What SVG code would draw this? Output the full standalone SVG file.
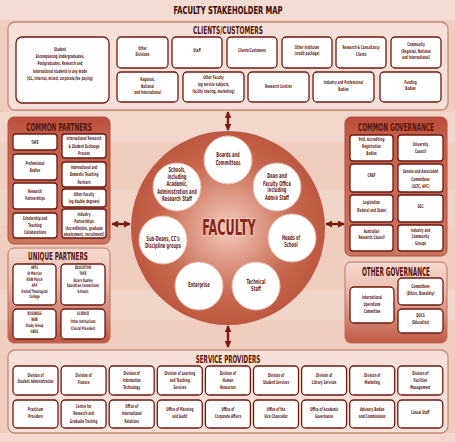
<svg xmlns="http://www.w3.org/2000/svg" width="455" height="442" viewBox="0 0 455 442">
<style>
.bx{fill:#fff;stroke:#6e1a12;stroke-width:1.3}
.bt{font-family:"DejaVu Sans Condensed","DejaVu Sans",sans-serif;font-weight:bold;font-size:5.2px;fill:#5c1510;text-anchor:middle}
.us{font-size:4.8px}
.ct{font-family:"DejaVu Sans Condensed","DejaVu Sans",sans-serif;font-weight:bold;font-size:7px;fill:#6a1a12;text-anchor:middle}
.pt{font-family:"DejaVu Sans Condensed","DejaVu Sans",sans-serif;font-weight:bold;font-size:11px;fill:#5a140e;text-anchor:middle}
.lp{fill:#f6e0d7;stroke:#c9897a;stroke-width:1.3}
.rp{fill:url(#redG);stroke:#b3503b;stroke-width:1}
.fp{fill:url(#fadeG);stroke:#c0705e;stroke-width:1}
.sc{fill:#fff;stroke:#e9b9aa;stroke-width:1}
.ar{stroke:#7a1c12;stroke-width:2.4;fill:none;marker-start:url(#ah);marker-end:url(#ah)}
</style>
<defs>
<linearGradient id="redG" x1="0" y1="0" x2="0" y2="1">
<stop offset="0" stop-color="#b94d38"/><stop offset="0.15" stop-color="#c2604b"/><stop offset="1" stop-color="#cb7561"/>
</linearGradient>
<linearGradient id="fadeG" x1="0" y1="0" x2="0" y2="1">
<stop offset="0" stop-color="#f4dad0"/><stop offset="0.3" stop-color="#eec2b4"/><stop offset="1" stop-color="#be5843"/>
</linearGradient>
<radialGradient id="facG" cx="0.5" cy="0.5" r="0.5">
<stop offset="0" stop-color="#f3cbbd"/><stop offset="0.35" stop-color="#de9985"/><stop offset="0.7" stop-color="#c7684f"/><stop offset="1" stop-color="#bd5841"/>
</radialGradient>
<marker id="ah" viewBox="0 0 8 8" refX="7" refY="4" markerWidth="7" markerHeight="7" markerUnits="userSpaceOnUse" orient="auto-start-reverse">
<path d="M0,0 L8,4 L0,8 z" fill="#7a1c12"/>
</marker>
</defs>
<rect x="0" y="0" width="455" height="442" fill="#efcdbf"/>
<rect x="0" y="0" width="455" height="20" fill="#f7e2da" opacity="0.7"/>
<rect x="0" y="112" width="455" height="30" fill="#f7e2da" opacity="0.5"/>
<rect x="0" y="190" width="455" height="35" fill="#f7e2da" opacity="0.4"/>
<rect x="0" y="290" width="455" height="30" fill="#f7e2da" opacity="0.4"/>
<rect x="0" y="433" width="455" height="9" fill="#f7e2da" opacity="0.5"/>
<text class="pt" transform="matrix(0.72 0 0 1 228 0)" x="0" y="14" style="fill:#3a0a08;font-size:10.5px">FACULTY STAKEHOLDER MAP</text>

<g id="clients">
<rect class="lp" x="8" y="22" width="440" height="88" rx="7"/>
<text class="pt" transform="matrix(0.59 0 0 1 228 0)" x="0" y="34">CLIENTS/CUSTOMERS</text>
<g id="c-student"><rect class="bx" x="16" y="37" width="93" height="66" rx="6"/>
<text class="bt" transform="matrix(0.58 0 0 1 60 0)"><tspan x="0" y="51.3">Student</tspan><tspan x="0" y="58">Encompassing Undergraduates,</tspan><tspan x="0" y="65.3">Postgraduates, Research and</tspan><tspan x="0" y="72.7">International students in any mode</tspan><tspan x="0" y="80.3">(OL, internal, mixed, corporate,fee paying)</tspan></text></g>
<g id="c-otherdiv"><rect class="bx" x="117" y="37" width="51" height="31" rx="4"/>
<text class="bt" transform="matrix(0.58 0 0 1 142.5 0)"><tspan x="0" y="49.6">Other</tspan><tspan x="0" y="56">Divisions</tspan></text></g>
<g id="c-staff"><rect class="bx" x="172" y="37" width="50" height="31" rx="4"/>
<text class="bt" transform="matrix(0.58 0 0 1 197 0)"><tspan x="0" y="52">Staff</tspan></text></g>
<g id="c-clients"><rect class="bx" x="227" y="37" width="50" height="31" rx="4"/>
<text class="bt" transform="matrix(0.58 0 0 1 252 0)"><tspan x="0" y="52">Clients/Customers</tspan></text></g>
<g id="c-otherinst"><rect class="bx" x="282" y="37" width="50" height="31" rx="4"/>
<text class="bt" transform="matrix(0.58 0 0 1 307 0)"><tspan x="0" y="48.6">Other Institutes</tspan><tspan x="0" y="55.2">(credit package)</tspan></text></g>
<g id="c-research"><rect class="bx" x="336" y="37" width="50" height="31" rx="4"/>
<text class="bt" transform="matrix(0.58 0 0 1 361 0)"><tspan x="0" y="49.3">Research &amp; Consultancy</tspan><tspan x="0" y="56">Clients</tspan></text></g>
<g id="c-community"><rect class="bx" x="391" y="37" width="50" height="31" rx="4"/>
<text class="bt" transform="matrix(0.58 0 0 1 416 0)"><tspan x="0" y="46">Community</tspan><tspan x="0" y="52.6">(Regional, National</tspan><tspan x="0" y="59.2">and International)</tspan></text></g>
<g id="c-regional"><rect class="bx" x="117" y="72" width="61" height="30" rx="4"/>
<text class="bt" transform="matrix(0.58 0 0 1 147.5 0)"><tspan x="0" y="81">Regional,</tspan><tspan x="0" y="87.7">National</tspan><tspan x="0" y="94.5">and International</tspan></text></g>
<g id="c-otherfac"><rect class="bx" x="183" y="72" width="61" height="30" rx="4"/>
<text class="bt" transform="matrix(0.58 0 0 1 213.5 0)"><tspan x="0" y="79.3">Other Faculty</tspan><tspan x="0" y="86">(eg service subjects,</tspan><tspan x="0" y="92.7">facility sharing, marketing)</tspan></text></g>
<g id="c-centres"><rect class="bx" x="248" y="72" width="61" height="30" rx="4"/>
<text class="bt" transform="matrix(0.58 0 0 1 278.5 0)"><tspan x="0" y="88">Research Centres</tspan></text></g>
<g id="c-industry"><rect class="bx" x="313" y="72" width="61" height="30" rx="4"/>
<text class="bt" transform="matrix(0.58 0 0 1 343.5 0)"><tspan x="0" y="84.3">Industry and Professional</tspan><tspan x="0" y="91">Bodies</tspan></text></g>
<g id="c-funding"><rect class="bx" x="380" y="72" width="61" height="30" rx="4"/>
<text class="bt" transform="matrix(0.58 0 0 1 410.5 0)"><tspan x="0" y="83.7">Funding</tspan><tspan x="0" y="90.5">Bodies</tspan></text></g>
</g>

<g id="common-partners">
<rect class="rp" x="8" y="117" width="102" height="127" rx="6"/>
<text class="pt" transform="matrix(0.58 0 0 1 59 0)" x="0" y="131">COMMON PARTNERS</text>
<g id="cp-tafe"><rect class="bx" x="13" y="134" width="44" height="16" rx="3"/>
<text class="bt" transform="matrix(0.58 0 0 1 35 0)"><tspan x="0" y="143.8">TAFE</tspan></text></g>
<g id="cp-prof"><rect class="bx" x="13" y="154" width="44" height="26" rx="3"/>
<text class="bt" transform="matrix(0.58 0 0 1 35 0)"><tspan x="0" y="164.6">Professional</tspan><tspan x="0" y="172">Bodies</tspan></text></g>
<g id="cp-research"><rect class="bx" x="13" y="183" width="44" height="26" rx="3"/>
<text class="bt" transform="matrix(0.58 0 0 1 35 0)"><tspan x="0" y="193">Research</tspan><tspan x="0" y="200.3">Partnerships</tspan></text></g>
<g id="cp-scholar"><rect class="bx" x="13" y="213" width="44" height="25" rx="3"/>
<text class="bt" transform="matrix(0.58 0 0 1 35 0)"><tspan x="0" y="220.3">Scholarship and</tspan><tspan x="0" y="227">Teaching</tspan><tspan x="0" y="234.2">Collaborations</tspan></text></g>
<g id="cp-intres"><rect class="bx" x="62" y="134" width="44" height="24" rx="3"/>
<text class="bt" transform="matrix(0.58 0 0 1 84 0)"><tspan x="0" y="140.3">International Research</tspan><tspan x="0" y="147.6">&amp; Student Exchange</tspan><tspan x="0" y="154.6">Process</tspan></text></g>
<g id="cp-intteach"><rect class="bx" x="62" y="162" width="44" height="25" rx="3"/>
<text class="bt" transform="matrix(0.58 0 0 1 84 0)"><tspan x="0" y="168.6">International and</tspan><tspan x="0" y="176">Domestic Teaching</tspan><tspan x="0" y="183.6">Partners</tspan></text></g>
<g id="cp-otherfac"><rect class="bx" x="62" y="189" width="44" height="18" rx="3"/>
<text class="bt" transform="matrix(0.58 0 0 1 84 0)"><tspan x="0" y="196">Other Faculty</tspan><tspan x="0" y="203">(eg double degrees)</tspan></text></g>
<g id="cp-industry"><rect class="bx" x="62" y="209" width="44" height="29" rx="3"/>
<text class="bt" transform="matrix(0.58 0 0 1 84 0)"><tspan x="0" y="216">Industry</tspan><tspan x="0" y="223">Partnerships</tspan><tspan x="0" y="229.6">(Accreditation, graduate</tspan><tspan x="0" y="236.2">employment, recruitment)</tspan></text></g>
</g>

<g id="unique-partners">
<rect class="fp" x="8" y="248" width="102" height="95" rx="6"/>
<text class="pt" transform="matrix(0.575 0 0 1 58 0)" x="0" y="260.5">UNIQUE PARTNERS</text>
<g id="up-arts"><rect class="bx" x="13" y="264" width="43" height="41" rx="4"/>
<text class="bt us" transform="matrix(0.58 0 0 1 34.5 0)"><tspan x="0" y="269.5">ARTS</tspan><tspan x="0" y="275">St Martins</tspan><tspan x="0" y="281">NSW Police</tspan><tspan x="0" y="287">AFP</tspan><tspan x="0" y="293">United Theological</tspan><tspan x="0" y="298.5">College</tspan></text></g>
<g id="up-edu"><rect class="bx" x="61" y="264" width="44" height="41" rx="4"/>
<text class="bt us" transform="matrix(0.58 0 0 1 83 0)"><tspan x="0" y="269.5">EDUCATION</tspan><tspan x="0" y="275.3">TAFE</tspan><tspan x="0" y="282">Alcorn Dudley</tspan><tspan x="0" y="287.5">Education Connections</tspan><tspan x="0" y="293">Schools</tspan></text></g>
<g id="up-bus"><rect class="bx" x="13" y="309" width="43" height="30" rx="4"/>
<text class="bt us" transform="matrix(0.58 0 0 1 34.5 0)"><tspan x="0" y="315">BUSINESS</tspan><tspan x="0" y="321">WAB</tspan><tspan x="0" y="327.5">Study Group</tspan><tspan x="0" y="333.5">GBSU</tspan></text></g>
<g id="up-sci"><rect class="bx" x="61" y="309" width="44" height="30" rx="4"/>
<text class="bt us" transform="matrix(0.58 0 0 1 83 0)"><tspan x="0" y="315">SCIENCE</tspan><tspan x="0" y="323">Other Institutions</tspan><tspan x="0" y="330">Clinical Providers</tspan></text></g>
</g>

<g id="common-governance">
<rect class="rp" x="345" y="117" width="102" height="139" rx="6"/>
<text class="pt" transform="matrix(0.576 0 0 1 396 0)" x="0" y="131">COMMON GOVERNANCE</text>
<g id="cg-prof"><rect class="bx" x="350" y="135" width="43" height="26" rx="3"/>
<text class="bt" transform="matrix(0.58 0 0 1 371.5 0)"><tspan x="0" y="141">Prof. Accrediting</tspan><tspan x="0" y="148.5">Registration</tspan><tspan x="0" y="155">Bodies</tspan></text></g>
<g id="cg-council"><rect class="bx" x="398" y="135" width="45" height="26" rx="3"/>
<text class="bt" transform="matrix(0.58 0 0 1 420.5 0)"><tspan x="0" y="146">University</tspan><tspan x="0" y="153.5">Council</tspan></text></g>
<g id="cg-crbf"><rect class="bx" x="350" y="164" width="43" height="28" rx="3"/>
<text class="bt" transform="matrix(0.58 0 0 1 371.5 0)"><tspan x="0" y="177">CRBF</tspan></text></g>
<g id="cg-senate"><rect class="bx" x="398" y="164" width="45" height="28" rx="3"/>
<text class="bt" transform="matrix(0.58 0 0 1 420.5 0)"><tspan x="0" y="173.5">Senate and Associated</tspan><tspan x="0" y="181">Committees</tspan><tspan x="0" y="188">(ULTC, APC)</tspan></text></g>
<g id="cg-legis"><rect class="bx" x="350" y="195" width="43" height="27" rx="3"/>
<text class="bt" transform="matrix(0.58 0 0 1 371.5 0)"><tspan x="0" y="204">Legislation</tspan><tspan x="0" y="212">(Federal and State)</tspan></text></g>
<g id="cg-sec"><rect class="bx" x="398" y="195" width="45" height="27" rx="3"/>
<text class="bt" transform="matrix(0.58 0 0 1 420.5 0)"><tspan x="0" y="208.5">SEC</tspan></text></g>
<g id="cg-arc"><rect class="bx" x="350" y="225" width="43" height="26" rx="3"/>
<text class="bt" transform="matrix(0.58 0 0 1 371.5 0)"><tspan x="0" y="233">Australian</tspan><tspan x="0" y="239.5">Research Council</tspan></text></g>
<g id="cg-industry"><rect class="bx" x="398" y="225" width="45" height="26" rx="3"/>
<text class="bt" transform="matrix(0.58 0 0 1 420.5 0)"><tspan x="0" y="232">Industry and</tspan><tspan x="0" y="238.5">Community</tspan><tspan x="0" y="245">Groups</tspan></text></g>
</g>

<g id="other-governance">
<rect class="fp" x="345" y="262" width="102" height="81" rx="6"/>
<text class="pt" transform="matrix(0.53 0 0 1 396 0)" x="0" y="276" style="font-size:12px">OTHER GOVERNANCE</text>
<g id="og-intops"><rect class="bx" x="350" y="287" width="44" height="36" rx="4"/>
<text class="bt" transform="matrix(0.58 0 0 1 372 0)"><tspan x="0" y="299">International</tspan><tspan x="0" y="306">Operations</tspan><tspan x="0" y="313.5">Committee</tspan></text></g>
<g id="og-comm"><rect class="bx" x="398" y="278" width="45" height="27" rx="4"/>
<text class="bt" transform="matrix(0.58 0 0 1 420.5 0)"><tspan x="0" y="288">Committees</tspan><tspan x="0" y="295">(Ethics, Biosafety)</tspan></text></g>
<g id="og-docs"><rect class="bx" x="398" y="309" width="45" height="24" rx="4"/>
<text class="bt" transform="matrix(0.58 0 0 1 420.5 0)"><tspan x="0" y="317">DOCS</tspan><tspan x="0" y="324">(Education)</tspan></text></g>
</g>

<g id="service-providers">
<rect class="lp" x="8" y="350" width="440" height="83" rx="7"/>
<text class="pt" transform="matrix(0.565 0 0 1 228 0)" x="0" y="363">SERVICE PROVIDERS</text>
<g id="sp-stuadmin"><rect class="bx" x="13" y="366" width="45" height="29" rx="4"/>
<text class="bt" transform="matrix(0.58 0 0 1 35.5 0)"><tspan x="0" y="377">Division of</tspan><tspan x="0" y="383.5">Student Administration</tspan></text></g>
<g id="sp-finance"><rect class="bx" x="61.1" y="366" width="45" height="29" rx="4"/>
<text class="bt" transform="matrix(0.58 0 0 1 83.6 0)"><tspan x="0" y="377">Division of</tspan><tspan x="0" y="383.6">Finance</tspan></text></g>
<g id="sp-it"><rect class="bx" x="109.2" y="366" width="45" height="29" rx="4"/>
<text class="bt" transform="matrix(0.58 0 0 1 131.7 0)"><tspan x="0" y="375.2">Division of</tspan><tspan x="0" y="382">Information</tspan><tspan x="0" y="388.6">Technology</tspan></text></g>
<g id="sp-lts"><rect class="bx" x="157.3" y="366" width="45" height="29" rx="4"/>
<text class="bt" transform="matrix(0.58 0 0 1 179.8 0)"><tspan x="0" y="375.2">Division of Learning</tspan><tspan x="0" y="382">and Teaching</tspan><tspan x="0" y="388.6">Services</tspan></text></g>
<g id="sp-hr"><rect class="bx" x="205.4" y="366" width="45" height="29" rx="4"/>
<text class="bt" transform="matrix(0.58 0 0 1 227.9 0)"><tspan x="0" y="375.2">Division of</tspan><tspan x="0" y="382">Human</tspan><tspan x="0" y="388.6">Resources</tspan></text></g>
<g id="sp-stuserv"><rect class="bx" x="253.5" y="366" width="45" height="29" rx="4"/>
<text class="bt" transform="matrix(0.58 0 0 1 276 0)"><tspan x="0" y="377">Division of</tspan><tspan x="0" y="384">Student Services</tspan></text></g>
<g id="sp-library"><rect class="bx" x="301.6" y="366" width="45" height="29" rx="4"/>
<text class="bt" transform="matrix(0.58 0 0 1 324.1 0)"><tspan x="0" y="377">Division of</tspan><tspan x="0" y="384">Library Services</tspan></text></g>
<g id="sp-marketing"><rect class="bx" x="349.7" y="366" width="45" height="29" rx="4"/>
<text class="bt" transform="matrix(0.58 0 0 1 372.2 0)"><tspan x="0" y="377">Division of</tspan><tspan x="0" y="384">Marketing</tspan></text></g>
<g id="sp-facilities"><rect class="bx" x="397.8" y="366" width="45" height="29" rx="4"/>
<text class="bt" transform="matrix(0.58 0 0 1 420.3 0)"><tspan x="0" y="375.2">Division of</tspan><tspan x="0" y="382">Facilities</tspan><tspan x="0" y="388.6">Management</tspan></text></g>
<g id="sp-practicum"><rect class="bx" x="13" y="400" width="45" height="28" rx="4"/>
<text class="bt" transform="matrix(0.58 0 0 1 35.5 0)"><tspan x="0" y="411">Practicum</tspan><tspan x="0" y="418">Providers</tspan></text></g>
<g id="sp-crgt"><rect class="bx" x="61.1" y="400" width="45" height="28" rx="4"/>
<text class="bt" transform="matrix(0.58 0 0 1 83.6 0)"><tspan x="0" y="408">Centre for</tspan><tspan x="0" y="415.2">Research and</tspan><tspan x="0" y="422.6">Graduate Training</tspan></text></g>
<g id="sp-intrel"><rect class="bx" x="109.2" y="400" width="45" height="28" rx="4"/>
<text class="bt" transform="matrix(0.58 0 0 1 131.7 0)"><tspan x="0" y="408">Office of</tspan><tspan x="0" y="415.2">International</tspan><tspan x="0" y="422.6">Relations</tspan></text></g>
<g id="sp-planning"><rect class="bx" x="157.3" y="400" width="45" height="28" rx="4"/>
<text class="bt" transform="matrix(0.58 0 0 1 179.8 0)"><tspan x="0" y="411">Office of Planning</tspan><tspan x="0" y="418">and Audit</tspan></text></g>
<g id="sp-corporate"><rect class="bx" x="205.4" y="400" width="45" height="28" rx="4"/>
<text class="bt" transform="matrix(0.58 0 0 1 227.9 0)"><tspan x="0" y="411">Office of</tspan><tspan x="0" y="418">Corporate Affairs</tspan></text></g>
<g id="sp-vc"><rect class="bx" x="253.5" y="400" width="45" height="28" rx="4"/>
<text class="bt" transform="matrix(0.58 0 0 1 276 0)"><tspan x="0" y="411">Office of the</tspan><tspan x="0" y="418">Vice Chancellor</tspan></text></g>
<g id="sp-academic"><rect class="bx" x="301.6" y="400" width="45" height="28" rx="4"/>
<text class="bt" transform="matrix(0.58 0 0 1 324.1 0)"><tspan x="0" y="411">Office of Academic</tspan><tspan x="0" y="418">Governance</tspan></text></g>
<g id="sp-advisory"><rect class="bx" x="349.7" y="400" width="45" height="28" rx="4"/>
<text class="bt" transform="matrix(0.58 0 0 1 372.2 0)"><tspan x="0" y="411">Advisory Bodies</tspan><tspan x="0" y="418">and Commissions</tspan></text></g>
<g id="sp-casual"><rect class="bx" x="397.8" y="400" width="45" height="28" rx="4"/>
<text class="bt" transform="matrix(0.58 0 0 1 420.3 0)"><tspan x="0" y="414.3">Casual Staff</tspan></text></g>
</g>

<g id="faculty">
<circle cx="228" cy="228" r="97" fill="url(#facG)"/>
<text transform="matrix(0.6 0 0 1 229 0)" x="0" y="235" style="font-family:'DejaVu Sans Condensed','DejaVu Sans',sans-serif;font-weight:bold;font-size:21px;fill:#8a2416;stroke:#fbe4dc;stroke-width:0.8;paint-order:stroke;text-anchor:middle">FACULTY</text>
<g id="f-boards"><circle class="sc" cx="228" cy="160" r="24"/>
<text class="ct" transform="matrix(0.58 0 0 1 228 0)"><tspan x="0" y="157.5">Boards and</tspan><tspan x="0" y="165">Committees</tspan></text></g>
<g id="f-dean"><circle class="sc" cx="277" cy="187" r="24"/>
<text class="ct" transform="matrix(0.58 0 0 1 277 0)"><tspan x="0" y="178.5">Dean and</tspan><tspan x="0" y="185.8">Faculty Office</tspan><tspan x="0" y="192.5">including</tspan><tspan x="0" y="199.8">Admin Staff</tspan></text></g>
<g id="f-heads"><circle class="sc" cx="292" cy="238" r="24"/>
<text class="ct" transform="matrix(0.58 0 0 1 291 0)"><tspan x="0" y="240.2">Heads of</tspan><tspan x="0" y="247.5">School</tspan></text></g>
<g id="f-technical"><circle class="sc" cx="256" cy="286" r="24"/>
<text class="ct" transform="matrix(0.58 0 0 1 256 0)"><tspan x="0" y="284.2">Technical</tspan><tspan x="0" y="290.8">Staff</tspan></text></g>
<g id="f-enterprise"><circle class="sc" cx="199" cy="286" r="24"/>
<text class="ct" transform="matrix(0.58 0 0 1 199 0)"><tspan x="0" y="287.5">Enterprise</tspan></text></g>
<g id="f-subdeans"><circle class="sc" cx="163" cy="240" r="24"/>
<text class="ct" transform="matrix(0.58 0 0 1 163 0)"><tspan x="0" y="240.8">Sub-Deans, CC's</tspan><tspan x="0" y="248">Discipline groups</tspan></text></g>
<g id="f-schools"><circle class="sc" cx="177" cy="187" r="24"/>
<text class="ct" transform="matrix(0.58 0 0 1 177 0)"><tspan x="0" y="172.5">Schools,</tspan><tspan x="0" y="179.5">including</tspan><tspan x="0" y="186.5">Academic,</tspan><tspan x="0" y="194">Administration and</tspan><tspan x="0" y="201">Research Staff</tspan></text></g>
</g>

<g id="connectors">
<line class="ar" x1="228" y1="112" x2="228" y2="130"/>
<line class="ar" x1="228" y1="326" x2="228" y2="347"/>
<line class="ar" x1="112" y1="224" x2="130" y2="224"/>
<line class="ar" x1="326" y1="224" x2="344" y2="224"/>
</g>
</svg>
